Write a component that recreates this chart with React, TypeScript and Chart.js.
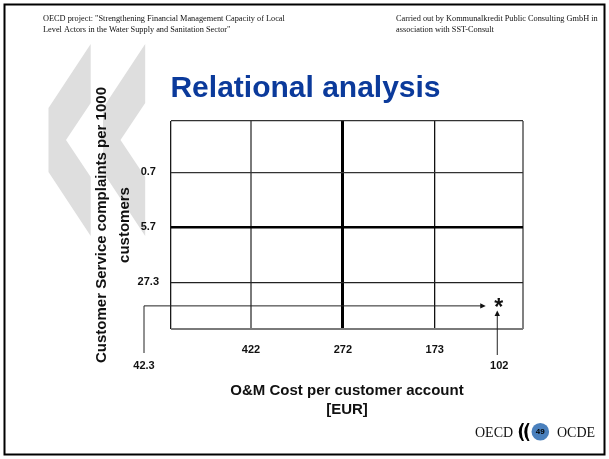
import React, { useEffect, useRef } from 'react';
import { Chart, registerables } from 'chart.js';

Chart.register(...registerables);

// ---- data ----
const chartTitle = 'Relational analysis';
const xTickLabels = ['422', '272', '173'];
const yTickLabels = ['0.7', '5.7', '27.3'];
const xAxisTitle = ['O&M Cost per customer account', '[EUR]'];
const yAxisTitle = ['Customer Service complaints per 1000', 'customers'];
const headerLeft = [
  'OECD project: "Strengthening Financial Management Capacity of Local',
  'Level Actors in the Water Supply and Sanitation Sector"',
];
const headerRight = [
  'Carried out by Kommunalkredit Public Consulting GmbH in',
  'association with SST-Consult',
];
const pointLabels = { cost: '102', complaints: '42.3' };
// position of the utility inside the quartile grid (grid lines at 1, 2, 3)
const pointQuartilePos = { x: 3.68, y: 3.43 };
const pageNumber = '49';
const logoLeft = 'OECD';
const logoRight = 'OCDE';

// ---- styling ----
const SANS = '"Liberation Sans", Arial, sans-serif';
const SERIF = '"Liberation Serif", "Times New Roman", serif';
const X_RANGE = [0.13, 3.96];
const Y_RANGE = [0.07, 3.85];

const xGrid = (v: number) => {
  if (v < 0.5) return { c: '#1a1a1a', w: 1.3 };
  if (v === 1) return { c: '#7a7a7a', w: 2 };
  if (v === 2) return { c: '#000000', w: 3 };
  if (v === 3) return { c: '#111111', w: 1.3 };
  return { c: '#808080', w: 2 };
};
const yGrid = (v: number) => {
  if (v < 0.5) return { c: '#333333', w: 1.3 };
  if (v === 1) return { c: '#333333', w: 1.3 };
  if (v === 2) return { c: '#000000', w: 2.6 };
  if (v === 3) return { c: '#222222', w: 1.3 };
  return { c: '#7a7a7a', w: 2 };
};

const slidePlugin = {
  id: 'slide',
  beforeDraw(chart: any) {
    const ctx = chart.ctx as CanvasRenderingContext2D;
    ctx.save();
    ctx.fillStyle = '#ffffff';
    ctx.fillRect(0, 0, chart.width, chart.height);
    // background chevrons
    ctx.fillStyle = '#dedede';
    const pts = [
      [90.7, 44], [48.5, 108], [48.5, 172], [90.7, 236],
      [90.7, 177], [66, 140], [90.7, 103],
    ];
    for (const dx of [0, 54.5]) {
      ctx.beginPath();
      pts.forEach(([x, y], i) => (i ? ctx.lineTo(x + dx, y) : ctx.moveTo(x + dx, y)));
      ctx.closePath();
      ctx.fill();
    }
    // frame
    ctx.strokeStyle = '#000';
    ctx.lineWidth = 2;
    ctx.strokeRect(4.5, 4.5, 600, 450);
    // header
    ctx.fillStyle = '#111';
    ctx.font = `8.3px ${SERIF}`;
    ctx.textAlign = 'left';
    ctx.textBaseline = 'alphabetic';
    headerLeft.forEach((t, i) => ctx.fillText(t, 43, 20.5 + i * 11.5));
    headerRight.forEach((t, i) => ctx.fillText(t, 396, 20.5 + i * 11.5));
    ctx.restore();
  },
  afterDraw(chart: any) {
    const ctx = chart.ctx as CanvasRenderingContext2D;
    const area = chart.chartArea;
    ctx.save();
    // y-axis title (drawn here so it is not squeezed to the plot height)
    ctx.fillStyle = '#111';
    ctx.font = `bold 15px ${SANS}`;
    ctx.textAlign = 'center';
    ctx.textBaseline = 'middle';
    const cy = (area.top + area.bottom) / 2;
    yAxisTitle.forEach((t, i) => {
      ctx.save();
      ctx.translate(area.left - 69 + i * 23, cy);
      ctx.rotate(-Math.PI / 2);
      ctx.fillText(t, 0, 0);
      ctx.restore();
    });

    // point with its arrows
    const el = chart.getDatasetMeta(0).data[0];
    const px = el.x;
    const py = el.y;
    const leftX = area.left - 27;
    const labY = area.bottom + 37;
    ctx.strokeStyle = '#222';
    ctx.fillStyle = '#111';
    ctx.lineWidth = 1;
    // horizontal arrow from the complaints label
    ctx.beginPath();
    ctx.moveTo(leftX, labY - 13);
    ctx.lineTo(leftX, py);
    ctx.lineTo(px - 15, py);
    ctx.stroke();
    ctx.beginPath();
    ctx.moveTo(px - 11.5, py);
    ctx.lineTo(px - 17, py - 2.7);
    ctx.lineTo(px - 17, py + 2.7);
    ctx.closePath();
    ctx.fill();
    // vertical arrow from the cost label
    ctx.beginPath();
    ctx.moveTo(px, labY - 11);
    ctx.lineTo(px, py + 8);
    ctx.stroke();
    ctx.beginPath();
    ctx.moveTo(px, py + 4.5);
    ctx.lineTo(px - 2.7, py + 10);
    ctx.lineTo(px + 2.7, py + 10);
    ctx.closePath();
    ctx.fill();
    // star
    ctx.font = `bold 23px ${SANS}`;
    ctx.textAlign = 'center';
    ctx.textBaseline = 'alphabetic';
    ctx.fillText('*', px + 1.5, py + 9.5);
    // value labels
    ctx.font = `bold 11px ${SANS}`;
    ctx.textBaseline = 'middle';
    ctx.fillText(pointLabels.complaints, leftX, labY);
    ctx.fillText(pointLabels.cost, px + 2, labY);

    // OECD logo
    ctx.font = `14px ${SERIF}`;
    ctx.textAlign = 'left';
    ctx.textBaseline = 'alphabetic';
    ctx.fillStyle = '#111';
    ctx.fillText(logoLeft, 475, 436.5);
    ctx.fillText(logoRight, 557, 436.5);
    ctx.fillStyle = '#000';
    for (const x0 of [518, 523.5]) {
      ctx.beginPath();
      ctx.moveTo(x0 + 4, 423);
      ctx.quadraticCurveTo(x0 - 2.5, 432, x0 + 4, 441);
      ctx.lineTo(x0 + 6, 441);
      ctx.quadraticCurveTo(x0 + 1.5, 432, x0 + 6, 423);
      ctx.closePath();
      ctx.fill();
    }
    ctx.fillStyle = '#4a80bd';
    ctx.beginPath();
    ctx.arc(540.3, 431.7, 8.8, 0, Math.PI * 2);
    ctx.fill();
    ctx.fillStyle = '#000';
    ctx.font = `bold 8px ${SANS}`;
    ctx.textAlign = 'center';
    ctx.textBaseline = 'middle';
    ctx.fillText(pageNumber, 540.3, 432);
    ctx.restore();
  },
};

export default function App() {
  const ref = useRef<HTMLCanvasElement | null>(null);

  useEffect(() => {
    if (!ref.current) return;
    const chart = new Chart(ref.current, {
      type: 'scatter',
      data: {
        datasets: [
          {
            data: [{ x: pointQuartilePos.x, y: pointQuartilePos.y }],
            pointRadius: 0,
            pointHoverRadius: 0,
          },
        ],
      },
      options: {
        responsive: false,
        animation: false,
        devicePixelRatio: 1,
        events: [],
        layout: { padding: { top: 40, left: 88, right: 86, bottom: 39.5 } },
        plugins: {
          legend: { display: false },
          tooltip: { enabled: false },
          title: {
            display: true,
            text: chartTitle,
            color: '#0b3a9b',
            font: { family: SANS, size: 30, weight: 'bold', lineHeight: 1.2 },
            padding: { top: 31, bottom: 14 },
          },
        },
        scales: {
          x: {
            type: 'linear',
            min: X_RANGE[0],
            max: X_RANGE[1],
            afterBuildTicks: (s: any) => {
              s.ticks = [X_RANGE[0], 1, 2, 3, X_RANGE[1]].map((value) => ({ value }));
            },
            afterFit: (s: any) => {
              s.height = 90.5;
            },
            border: { display: false },
            grid: {
              drawTicks: false,
              color: (c: any) => xGrid(c.tick.value).c,
              lineWidth: (c: any) => xGrid(c.tick.value).w,
            },
            ticks: {
              autoSkip: false,
              maxRotation: 0,
              minRotation: 0,
              padding: 14,
              color: '#111',
              font: { family: SANS, size: 11, weight: 'bold' },
              callback: (v: any) =>
                Number.isInteger(v) && v >= 1 && v <= 3 ? xTickLabels[v - 1] : '',
            },
            title: {
              display: true,
              text: xAxisTitle,
              color: '#111',
              font: { family: SANS, size: 15, weight: 'bold', lineHeight: 19 / 15 },
              padding: { top: 25.3, bottom: 0 },
            },
          },
          y: {
            type: 'linear',
            reverse: true,
            min: Y_RANGE[0],
            max: Y_RANGE[1],
            afterBuildTicks: (s: any) => {
              s.ticks = [Y_RANGE[0], 1, 2, 3, Y_RANGE[1]].map((value) => ({ value }));
            },
            afterFit: (s: any) => {
              s.width = 83;
            },
            border: { display: false },
            grid: {
              drawTicks: false,
              color: (c: any) => yGrid(c.tick.value).c,
              lineWidth: (c: any) => yGrid(c.tick.value).w,
            },
            ticks: {
              autoSkip: false,
              padding: 12,
              crossAlign: 'center',
              color: '#111',
              font: { family: SANS, size: 11, weight: 'bold' },
              callback: (v: any) =>
                Number.isInteger(v) && v >= 1 && v <= 3 ? yTickLabels[v - 1] : '',
            },
          },
        },
      },
      plugins: [slidePlugin],
    } as any);
    return () => chart.destroy();
  }, []);

  return (
    <div style={{ position: 'absolute', left: 0, top: 0, width: 609, height: 459, background: '#fff' }}>
      <canvas ref={ref} width={609} height={459} style={{ display: 'block', width: 609, height: 459 }} />
    </div>
  );
}
